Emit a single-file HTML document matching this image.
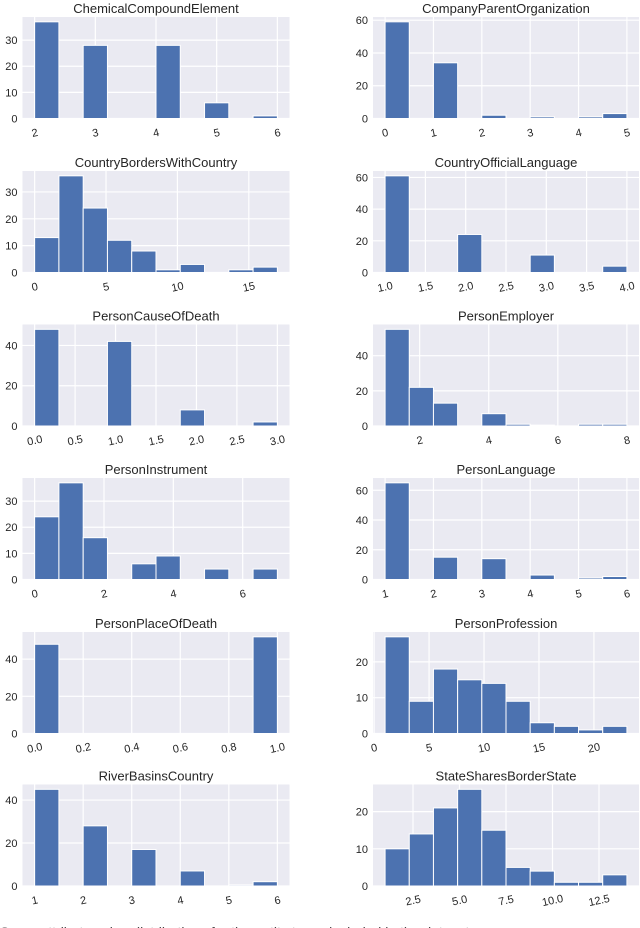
<!DOCTYPE html>
<html><head><meta charset="utf-8"><style>
html,body{margin:0;padding:0;background:#fff;}
svg{display:block;font-family:"Liberation Sans",Arial,sans-serif;}
</style></head><body>
<svg id="fig" width="640" height="928" viewBox="0 0 640 928">
<text x="0" y="937" font-size="14" fill="#444">Some attribute value distributions for the entity types included in the dataset</text>
</svg>
<script>
// ---- data (one set of small arrays per panel) ----
const titles = ["ChemicalCompoundElement","CompanyParentOrganization","CountryBordersWithCountry","CountryOfficialLanguage","PersonCauseOfDeath","PersonEmployer","PersonInstrument","PersonLanguage","PersonPlaceOfDeath","PersonProfession","RiverBasinsCountry","StateSharesBorderState"];
const binMin = [2,0,0,1,0,1,0,1,0,1,1,1];
const binMax = [6,5,17,4,3,8,7,6,1,23,6,14];
const counts0 = [37,0,28,0,0,28,0,6,0,1];
const counts1 = [59,0,34,0,2,0,1,0,1,3];
const counts2 = [13,36,24,12,8,1,3,0,1,2];
const counts3 = [61,0,0,24,0,0,11,0,0,4];
const counts4 = [48,0,0,42,0,0,8,0,0,2];
const counts5 = [55,22,13,0,7,1,0.5,0,1,1];
const counts6 = [24,37,16,0,6,9,0,4,0,4];
const counts7 = [65,0,15,0,14,0,3,0,1,2];
const counts8 = [48,0,0,0,0,0,0,0,0,52];
const counts9 = [27,9,18,15,14,9,3,2,1,2];
const counts10 = [45,0,28,0,17,0,7,0,0.5,2];
const counts11 = [10,14,21,26,15,5,4,1,1,3];
const xTicks0 = [2,3,4,5,6];
const xTicks1 = [0,1,2,3,4,5];
const xTicks2 = [0,5,10,15];
const xTicks3 = ["1.0","1.5","2.0","2.5","3.0","3.5","4.0"];
const xTicks4 = ["0.0","0.5","1.0","1.5","2.0","2.5","3.0"];
const xTicks5 = [2,4,6,8];
const xTicks6 = [0,2,4,6];
const xTicks7 = [1,2,3,4,5,6];
const xTicks8 = ["0.0","0.2","0.4","0.6","0.8","1.0"];
const xTicks9 = [0,5,10,15,20];
const xTicks10 = [1,2,3,4,5,6];
const xTicks11 = ["2.5","5.0","7.5","10.0","12.5"];
const yTicks0 = [0,10,20,30];
const yTicks1 = [0,20,40,60];
const yTicks2 = [0,10,20,30];
const yTicks3 = [0,20,40,60];
const yTicks4 = [0,20,40];
const yTicks5 = [0,20,40];
const yTicks6 = [0,10,20,30];
const yTicks7 = [0,20,40,60];
const yTicks8 = [0,20,40];
const yTicks9 = [0,10,20];
const yTicks10 = [0,20,40];
const yTicks11 = [0,10,20];

const allCounts=[counts0,counts1,counts2,counts3,counts4,counts5,counts6,counts7,counts8,counts9,counts10,counts11];
const allX=[xTicks0,xTicks1,xTicks2,xTicks3,xTicks4,xTicks5,xTicks6,xTicks7,xTicks8,xTicks9,xTicks10,xTicks11];
const allY=[yTicks0,yTicks1,yTicks2,yTicks3,yTicks4,yTicks5,yTicks6,yTicks7,yTicks8,yTicks9,yTicks10,yTicks11];

const NS="http://www.w3.org/2000/svg";
const svg=document.getElementById('fig');
function mk(tag,attrs,parent){const e=document.createElementNS(NS,tag);for(const k in attrs)e.setAttribute(k,attrs[k]);(parent||svg).appendChild(e);return e;}

const colX=[22.5,373], colW=[267,266];
const rowTop=[17,171,324.5,478,632,784.5], plotH=101.5;

for(let i=0;i<12;i++){
  const col=i%2,row=Math.floor(i/2);
  const px=colX[col],pw=colW[col],py=rowTop[row],ph=plotH;
  const g=mk('g',{});
  
  
  const c=allCounts[i],lo=binMin[i],hi=binMax[i];
  const span=hi-lo,xmin=lo-span*0.05,xmax=hi+span*0.05;
  const ymax=Math.max(...c)*1.05;
  const X=v=>px+(v-xmin)/(xmax-xmin)*pw;
  const Y=v=>py+ph-v/ymax*ph;
  const bg=mk('rect',{x:px,y:py,width:pw,height:ph,fill:'#eaeaf2'},g);
  
  
  allX[i].forEach(t=>{const v=parseFloat(t);const x=X(v);
    mk('line',{x1:x,x2:x,y1:py,y2:py+ph,stroke:'#fff','stroke-width':1.2},g);
    const lb=mk('text',{x:x,y:py+ph+18,'font-size':11,fill:'#262626','text-anchor':'middle',transform:`rotate(-12 ${x} ${py+ph+14})`},g);
    lb.textContent=String(t);
    
    
  });
  allY[i].forEach(t=>{const y=Y(t);
    mk('line',{x1:px,x2:px+pw,y1:y,y2:y,stroke:'#fff','stroke-width':1.2},g);
    const lb=mk('text',{x:px-5,y:y+4,'font-size':11,fill:'#262626','text-anchor':'end'},g);
    lb.textContent=String(t);
    
    
  });
  const w=span/c.length;
  c.forEach((v,k)=>{if(v<=0)return;
    const x0=X(lo+k*w),x1=X(lo+(k+1)*w);
    const b=mk('rect',{x:x0,y:Y(v),width:x1-x0,height:Y(0)-Y(v),fill:'#4c72b0',stroke:'#fff','stroke-width':1},g);
    
    
  });
  const tt=mk('text',{x:px+pw/2,y:py-4,'font-size':13,fill:'#262626','text-anchor':'middle'},g);
  tt.textContent=titles[i];
  
  
}
</script>
</body></html>
